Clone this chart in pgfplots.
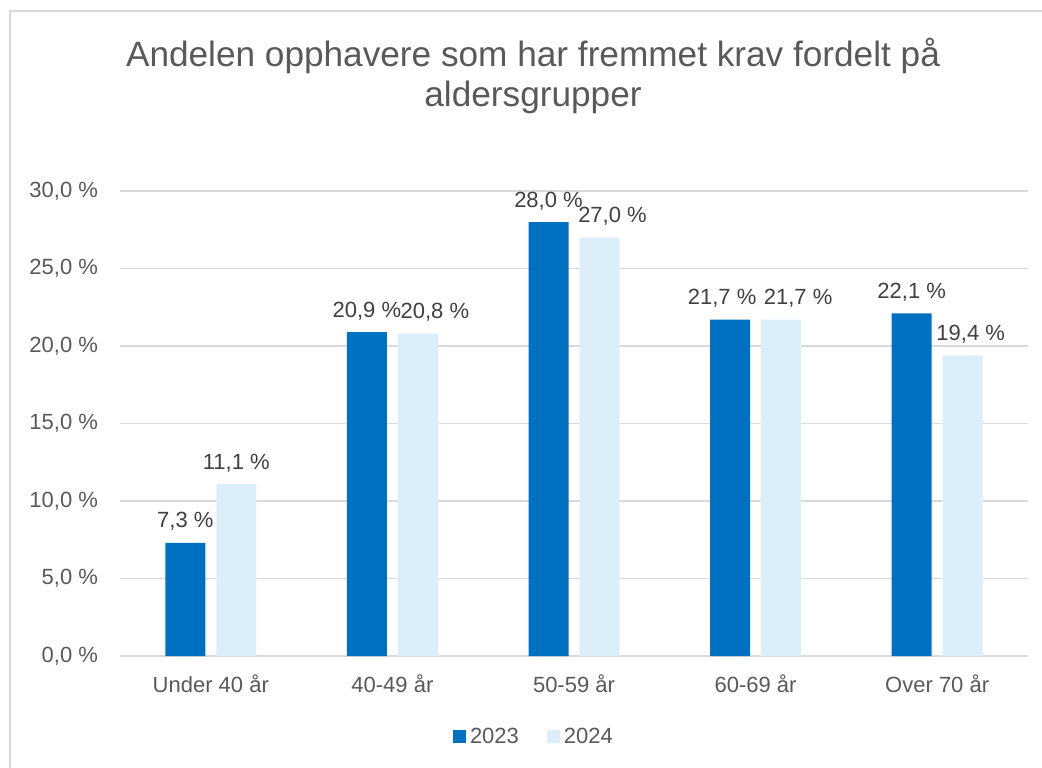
\documentclass[border=0pt]{standalone}
\usepackage{pgfplots}
\pgfplotsset{compat=1.18}
\usepackage{fontspec}
\setmainfont{Liberation Sans}
\definecolor{c23}{RGB}{0,112,192}
\definecolor{c24}{RGB}{221,238,251}
\definecolor{gridc}{RGB}{217,217,217}
\definecolor{tickc}{RGB}{89,89,89}
\definecolor{labc}{RGB}{64,64,64}
\newcommand{\lblfont}{\fontsize{11}{13}\selectfont}

% dx: horizontal shift of the data label (Excel moves some apart)
\pgfplotstableread{
x y dx
0 7.3 0
1 20.9 0
2 28.0 0
3 21.7 -4
4 22.1 0
}\dataA
\pgfplotstableread{
x y dx
0 11.1 0
1 20.8 8.5
2 27.0 6.5
3 21.7 8.5
4 19.4 4
}\dataB

\begin{document}
\begin{tikzpicture}
\path[use as bounding box] (-60pt,-55.5pt) rectangle (461pt,328pt);
% frame of the chart area (only left and top are inside the picture)
\draw[gridc, line width=0.75pt] (-55pt,-60pt) -- (-55pt,322.5pt) -- (470pt,322.5pt);
\begin{axis}[
    scale only axis,
    width=454pt, height=232.5pt,
    ybar=5.5pt, bar width=20pt,
    xmin=-0.5, xmax=4.5,
    ymin=0, ymax=30,
    xtick=data,
    xticklabels={Under 40 år,40-49 år,50-59 år,60-69 år,Over 70 år},
    ytick={0,5,...,30},
    axis line style={draw=none},
    major tick length=0pt,
    ymajorgrids,
    grid style={gridc, line width=0.75pt},
    /pgf/number format/assume math mode=true,
    yticklabel={\pgfmathprintnumber[fixed,fixed zerofill,precision=1,use comma]{\tick}~\%},
    yticklabel style={font=\lblfont, text=tickc, xshift=-7.5pt},
    xticklabel style={font=\lblfont, text=tickc, yshift=-6pt},
    nodes near coords={\pgfmathprintnumber[fixed,fixed zerofill,precision=1,use comma]{\pgfplotspointmeta}~\%},
    visualization depends on={\thisrow{dx} \as \dx},
    nodes near coords style={font=\lblfont, text=labc, yshift=2.5pt, xshift=\dx pt},
    legend style={at={(0.457,-0.174)}, anchor=center, draw=none, fill=none,
        font=\lblfont, text=tickc, legend columns=2,
        /tikz/every even column/.append style={column sep=12pt}},
    legend image code/.code={\fill[#1] (0pt,-3.25pt) rectangle (6.5pt,3.25pt);},
]
\addplot[fill=c23, draw=none] table[x=x, y=y] {\dataA};
\addlegendentry{2023}
\addplot[fill=c24, draw=none] table[x=x, y=y] {\dataB};
\addlegendentry{2024}
\end{axis}
\node[anchor=base, font=\fontsize{17.6}{20}\selectfont, text=tickc] at (206.5pt,294.5pt)
    {Andelen opphavere som har fremmet krav fordelt på};
\node[anchor=base, font=\fontsize{17.6}{20}\selectfont, text=tickc] at (206.5pt,275pt)
    {aldersgrupper};
\end{tikzpicture}
\end{document}
